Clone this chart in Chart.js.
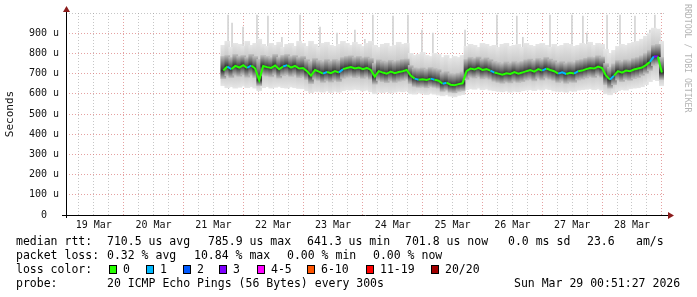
<!DOCTYPE html>
<html>
<head>
<meta charset="utf-8">
<script src="https://cdn.jsdelivr.net/npm/chart.js@4.4.1/dist/chart.umd.min.js"></script>
<style>
    body { margin: 0; background: #fff; width: 697px; height: 297px; overflow: hidden; position: relative; font-family: 'DejaVu Sans Mono', monospace; }
    #graph { position: absolute; left: 0; top: 0; }
    .t { position: absolute; font-size: 11.5px; line-height: 14px; white-space: pre; color: #000; }
    .sq { position: absolute; top: 265px; width: 6px; height: 7px; border: 1px solid #000; }
    .wm { position: absolute; left: 683px; top: 4px; writing-mode: vertical-rl; font-size: 8.2px; color: #b4b4b4; white-space: pre; }
</style>
</head>
<body>
<canvas id="graph" width="697" height="297"></canvas>
<div class="wm">RRDTOOL / TOBI OETIKER</div>

<div class="t" style="left:16px;top:234px">median rtt:</div>
<div class="t" style="left:107px;top:234px">710.5 us avg</div>
<div class="t" style="left:208px;top:234px">785.9 us max</div>
<div class="t" style="left:307px;top:234px">641.3 us min</div>
<div class="t" style="left:405px;top:234px">701.8 us now</div>
<div class="t" style="left:508px;top:234px">0.0 ms sd</div>
<div class="t" style="left:587px;top:234px">23.6</div>
<div class="t" style="left:636px;top:234px">am/s</div>

<div class="t" style="left:16px;top:248px">packet loss:</div>
<div class="t" style="left:107px;top:248px">0.32 % avg</div>
<div class="t" style="left:194px;top:248px">10.84 % max</div>
<div class="t" style="left:287px;top:248px">0.00 % min</div>
<div class="t" style="left:373px;top:248px">0.00 % now</div>

<div class="t" style="left:16px;top:262px">loss color:</div>
<div id="lossLegend"></div>

<div class="t" style="left:16px;top:276px">probe:</div>
<div class="t" style="left:107px;top:276px">20 ICMP Echo Pings (56 Bytes) every 300s</div>
<div class="t" style="left:514px;top:276px">Sun Mar 29 00:51:27 2026</div>

<script>
// x axis is hours since 19 Mar 00:00, window ends Sun Mar 29 00:51:27
const viewStart = 0.857;
const viewEnd = 240.857;
const dayLabels = ['19 Mar', '20 Mar', '21 Mar', '22 Mar', '23 Mar', '24 Mar', '25 Mar', '26 Mar', '27 Mar', '28 Mar'];
const yLabels = ['0  ', '100 u', '200 u', '300 u', '400 u', '500 u', '600 u', '700 u', '800 u', '900 u'];

// samples start 21 Mar ~16:00, one every 1.6 h
const firstHour = 64;
const stepHours = 1.6;

// median rtt (us)
const median = [
    715, 735, 722, 738, 730, 742, 728, 740, 725, 668,
    738, 732, 728, 740, 722, 735, 742, 730, 738, 725,
    728, 712, 690, 718, 710, 700, 708, 702, 712, 705,
    722, 728, 732, 725, 730, 722, 728, 718, 685, 712,
    705, 700, 710, 702, 708, 712, 718, 690, 675, 670,
    672, 668, 675, 670, 665, 650, 655, 645, 642, 648,
    652, 712, 725, 720, 728, 718, 722, 715, 705, 700,
    695, 702, 698, 708, 700, 705, 712, 718, 710, 722,
    715, 725, 718, 712, 700, 706, 698, 704, 700, 712,
    715, 722, 728, 725, 735, 728, 690, 670, 690, 712,
    705, 715, 712, 720, 725, 730, 742, 758, 785, 785,
    705
];

// smoke: outer extent of the 20 pings
const smokeMax = [
    840, 860, 830, 850, 845, 835, 860, 840, 850, 870, 845, 835, 850, 840, 855, 830, 845, 850, 835, 860,
    850, 835, 860, 845, 830, 850, 855, 840, 835, 845, 860, 850, 840, 855, 845, 835, 850, 860, 840, 830,
    845, 850, 835, 840, 855, 845, 850,
    800, 790, 795, 805, 790, 785, 800, 795,
    780, 790, 775, 785, 780, 790,
    835, 845, 840, 830, 850, 845, 835, 840, 830, 845, 850, 835, 840, 845, 830, 850, 840, 835, 845, 850,
    840, 830, 845, 835, 840, 850, 845, 835, 840, 850, 845, 855, 840, 850, 845,
    820, 800, 815,
    835, 845, 840, 850, 855, 860, 870,
    885, 900, 925, 920, 860
];
const smokeMin = [
    640, 630, 635, 628, 632, 638, 630, 635, 628, 615, 630, 635, 628, 632, 636, 630, 628, 634, 630, 626,
    625, 615, 605, 612, 610, 608, 614, 606, 612, 608, 615, 620, 618, 622, 620, 614, 618, 610, 600, 608,
    606, 610, 604, 608, 612, 610, 614,
    600, 598, 604, 600, 596, 602, 598, 594,
    590, 595, 588, 585, 592, 596,
    620, 625, 622, 628, 620, 624, 618, 615, 612, 610, 614, 608, 612, 610, 615, 618, 620, 616, 622, 618,
    624, 620, 614, 610, 612, 608, 614, 612, 618, 620, 622, 625, 620, 624, 618,
    600, 595, 605,
    615, 620, 618, 625, 628, 630, 635,
    645, 660, 670, 665, 640
];
// smoke: dense core
const smokeHi = [
    785, 790, 780, 795, 785, 790, 780, 795, 785, 770, 790, 785, 780, 795, 780, 790, 795, 785, 790, 780,
    785, 770, 760, 775, 765, 760, 770, 762, 770, 765, 780, 785, 788, 780, 785, 778, 782, 775, 750, 768,
    762, 758, 766, 760, 765, 770, 772,
    740, 728, 725, 728, 722, 730, 725, 720,
    705, 710, 700, 698, 702, 708,
    770, 780, 775, 782, 772, 778, 770, 760, 755, 750, 758, 752, 760, 755, 760, 768, 772, 765, 775, 770,
    780, 772, 765, 755, 760, 752, 758, 755, 766, 770, 776, 782, 780, 788, 782,
    750, 732, 748,
    765, 760, 768, 765, 775, 780, 788,
    800, 815, 840, 845, 780
];
const smokeLo = [
    675, 690, 680, 692, 686, 694, 682, 692, 680, 640, 692, 688, 684, 694, 678, 690, 694, 686, 692, 680,
    684, 670, 650, 672, 666, 656, 664, 658, 666, 660, 676, 682, 686, 680, 684, 676, 682, 672, 648, 666,
    660, 655, 664, 656, 662, 666, 672,
    650, 636, 632, 634, 630, 636, 632, 628,
    612, 618, 608, 605, 612, 615,
    670, 682, 678, 684, 674, 678, 672, 662, 656, 652, 658, 654, 662, 656, 660, 668, 672, 664, 676, 668,
    678, 672, 666, 656, 662, 652, 658, 656, 668, 672, 678, 684, 680, 690, 682,
    645, 628, 645,
    668, 660, 670, 666, 675, 680, 690,
    700, 715, 740, 745, 670
];

// single slow pings sticking out of the smoke
const spikeHours = [65.9, 67.5, 71.9, 77.5, 81.9, 87.5, 94.8, 102.8, 109.6, 116.8, 120.8, 124.0, 132.1, 138.1, 143.7,
    148.1, 161.0, 173.8, 181.8, 184.2, 195.1, 203.9, 208.3, 209.9, 218.0, 223.2, 229.2, 235.2, 237.2];
const spikeTops = [990, 950, 930, 990, 985, 880, 990, 930, 900, 915, 870, 990, 985, 990, 915,
    900, 915, 990, 985, 880, 990, 990, 985, 900, 990, 990, 985, 915, 990];

// samples that lost pings
const lossAt = [2, 7, 16, 26, 30, 49, 53, 56, 68, 81, 85, 86, 89, 98, 108, 109];
const lossCount = [1, 1, 1, 1, 1, 1, 1, 1, 1, 1, 1, 1, 1, 1, 1, 3];

const lossColors = ['#26ff00', '#00b8ff', '#0059ff', '#7e00ff', '#ff00ff', '#ff5500', '#ff0000', '#a10000'];
const lossLabels = ['0', '1', '2', '3', '4-5', '6-10', '11-19', '20/20'];

// legend swatches
const swatchX = [109, 146, 183, 219, 257, 307, 366, 431];
const legendEl = document.getElementById('lossLegend');
lossLabels.forEach((label, i) => {
    legendEl.innerHTML += `<div class="sq" style="left:${swatchX[i]}px;background:${lossColors[i]}"></div>` +
        `<div class="t" style="left:${swatchX[i] + 14}px;top:262px">${label}</div>`;
});

const hours = median.map((_, i) => firstHour + i * stepHours);
const lossBySample = median.map(() => 0);
lossAt.forEach((idx, k) => { lossBySample[idx] = lossCount[k]; });

function lossColor(n) {
    if (n === 0) return lossColors[0];
    if (n <= 3) return lossColors[n];
    if (n <= 5) return lossColors[4];
    if (n <= 10) return lossColors[5];
    if (n <= 19) return lossColors[6];
    return lossColors[7];
}

// vertical gradient per bar, darkest at the median
function smokeFill(light, dark, lo, hi) {
    return (c) => {
        const chart = c.chart;
        if (!chart.chartArea || c.type !== 'data') return light;
        const ys = chart.scales.y;
        const i = c.dataIndex;
        const yTop = ys.getPixelForValue(hi[i]);
        const yBot = ys.getPixelForValue(lo[i]);
        const yMed = ys.getPixelForValue(median[i]);
        if (!isFinite(yTop) || yBot - yTop < 1) return dark;
        let f = (yMed - yTop) / (yBot - yTop);
        f = Math.min(0.95, Math.max(0.05, f));
        const g = chart.ctx.createLinearGradient(0, yTop, 0, yBot);
        g.addColorStop(0, light);
        g.addColorStop(f, dark);
        g.addColorStop(1, light);
        return g;
    };
}

const majorGrid = 'rgba(215, 110, 110, 0.65)';
const minorGrid = 'rgba(160, 160, 160, 0.6)';

// axis lines and arrow heads
const axisArrows = {
    id: 'axisArrows',
    afterDraw(chart) {
        const { ctx, chartArea: a } = chart;
        const yb = Math.round(a.bottom) + 0.5;
        const xl = Math.round(a.left) + 0.5;
        ctx.save();
        ctx.strokeStyle = '#000';
        ctx.lineWidth = 1;
        ctx.beginPath();
        ctx.moveTo(a.left - 4, yb);
        ctx.lineTo(a.right + 5, yb);
        ctx.moveTo(xl, a.bottom + 3);
        ctx.lineTo(xl, a.top - 3);
        ctx.stroke();
        ctx.fillStyle = '#8b1c1c';
        ctx.beginPath();
        ctx.moveTo(xl, a.top - 7);
        ctx.lineTo(xl - 3.5, a.top - 1);
        ctx.lineTo(xl + 3.5, a.top - 1);
        ctx.closePath();
        ctx.fill();
        ctx.beginPath();
        ctx.moveTo(a.right + 10, yb);
        ctx.lineTo(a.right + 4, yb - 3.5);
        ctx.lineTo(a.right + 4, yb + 3.5);
        ctx.closePath();
        ctx.fill();
        ctx.restore();
    }
};

new Chart(document.getElementById('graph'), {
    type: 'bar',
    data: {
        datasets: [
            {
                type: 'line',
                data: hours.map((h, i) => ({ x: h, y: median[i] })),
                borderColor: lossColors[0],
                borderWidth: 2,
                pointRadius: 0,
                tension: 0,
                segment: { borderColor: (s) => lossColor(lossBySample[s.p1DataIndex]) },
                order: 1
            },
            {
                data: hours.map((h, i) => ({ x: h, y: [smokeLo[i], smokeHi[i]] })),
                backgroundColor: smokeFill('#bcbcbc', '#343434', smokeLo, smokeHi),
                barThickness: 5,
                grouped: false,
                borderWidth: 0,
                order: 2
            },
            {
                data: hours.map((h, i) => ({ x: h, y: [smokeMin[i], smokeMax[i]] })),
                backgroundColor: smokeFill('#e6e6e6', '#b6b6b6', smokeMin, smokeMax),
                barThickness: 5,
                grouped: false,
                borderWidth: 0,
                order: 3
            },
            {
                data: spikeHours.map((h, i) => ({ x: h, y: [800, spikeTops[i]] })),
                backgroundColor: '#d4d4d4',
                barThickness: 1,
                grouped: false,
                borderWidth: 0,
                order: 4
            }
        ]
    },
    options: {
        responsive: false,
        animation: false,
        events: [],
        layout: { padding: { left: 0, top: 13, right: 33, bottom: 62 } },
        plugins: { legend: { display: false }, tooltip: { enabled: false } },
        scales: {
            x: {
                type: 'linear',
                min: viewStart,
                max: viewEnd,
                offset: false,
                afterBuildTicks(scale) {
                    const t = [];
                    for (let h = 6; h <= 240; h += 6) t.push({ value: h });
                    scale.ticks = t;
                },
                afterFit(scale) { scale.height = 20; },
                grid: {
                    offset: false,
                    drawTicks: false,
                    color: (c) => (c.tick && c.tick.value % 24 === 0 ? majorGrid : minorGrid)
                },
                border: { display: false, dash: [1, 2] },
                ticks: {
                    autoSkip: false,
                    maxRotation: 0,
                    padding: 4,
                    color: '#111',
                    font: { family: 'DejaVu Sans Mono', size: 10 },
                    callback: (v) => (v % 24 === 12 ? (dayLabels[(v - 12) / 24] || '') : '')
                }
            },
            y: {
                min: 0,
                max: 1000,
                afterFit(scale) { scale.width = 66; },
                grid: {
                    drawTicks: false,
                    color: (c) => (c.tick && c.tick.value % 100 === 0 && c.tick.value < 1000 ? majorGrid : minorGrid)
                },
                border: { display: false, dash: [1, 2] },
                title: {
                    display: true,
                    text: 'Seconds',
                    color: '#111',
                    padding: { top: 4, bottom: 0 },
                    font: { family: 'DejaVu Sans Mono', size: 11 }
                },
                ticks: {
                    stepSize: 50,
                    padding: 7,
                    color: '#111',
                    font: { family: 'DejaVu Sans Mono', size: 10 },
                    callback: (v) => (v % 100 === 0 && v < 1000 ? yLabels[v / 100] : '')
                }
            }
        }
    },
    plugins: [axisArrows]
});
</script>
</body>
</html>
